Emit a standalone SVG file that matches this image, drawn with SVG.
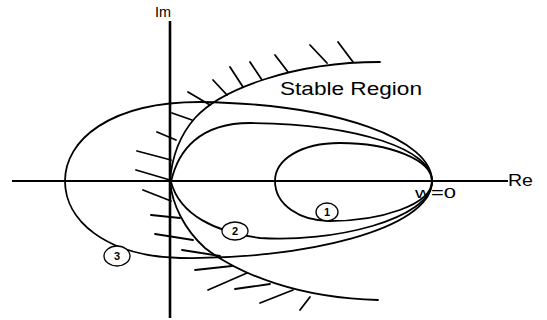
<svg xmlns="http://www.w3.org/2000/svg" width="547" height="320" viewBox="0 0 547 320">
<style>
.ax{stroke:#000;stroke-width:2.2;fill:none}
.cv{stroke:#000;stroke-width:1.8;fill:none;stroke-linecap:round}
.ht{stroke:#000;stroke-width:1.8;stroke-linecap:round}
.lb{fill:#fff;stroke:#000;stroke-width:1.3}
.t{font-family:"Liberation Sans",Arial,sans-serif;fill:#000}
.n{font-family:"Liberation Sans",Arial,sans-serif;font-size:11px;font-weight:bold;text-anchor:middle;fill:#000}
</style>
<rect width="547" height="320" fill="#fff"/>
<g id="axes">
<line class="ax" x1="12" y1="181" x2="508" y2="181"/>
<line class="ax" x1="170" y1="21" x2="170" y2="318" style="stroke-width:2.6"/>
<text class="t" x="155" y="17" font-size="14" textLength="16" lengthAdjust="spacingAndGlyphs">Im</text>
<text class="t" x="508" y="186" font-size="16" textLength="25" lengthAdjust="spacingAndGlyphs">Re</text>
</g>
<g id="stable-boundary">
<path class="cv" d="M380,62 C292,62 220,90 195,118 C180,135 172,155 170,181 C172,205 185,230 205,248 C240,275 300,298 378,300"/>
<g id="hatching">
<line class="ht" x1="353" y1="62" x2="338" y2="42"/>
<line class="ht" x1="327" y1="63" x2="310" y2="45"/>
<line class="ht" x1="288" y1="72" x2="275" y2="55"/>
<line class="ht" x1="262" y1="80" x2="250" y2="62"/>
<line class="ht" x1="243" y1="87" x2="230" y2="67"/>
<line class="ht" x1="227" y1="95" x2="213" y2="80"/>
<line class="ht" x1="210" y1="105" x2="188" y2="92"/>
<line class="ht" x1="192" y1="120" x2="172" y2="113"/>
<line class="ht" x1="176" y1="140" x2="157" y2="132"/>
<line class="ht" x1="171" y1="160" x2="137" y2="151"/>
<line class="ht" x1="170" y1="180" x2="136" y2="170"/>
<line class="ht" x1="171" y1="201" x2="143" y2="190"/>
<line class="ht" x1="180" y1="218" x2="151" y2="215"/>
<line class="ht" x1="193" y1="240" x2="155" y2="234"/>
<line class="ht" x1="220" y1="256" x2="182" y2="250"/>
<line class="ht" x1="232" y1="266" x2="195" y2="270"/>
<line class="ht" x1="247" y1="273" x2="208" y2="290"/>
<line class="ht" x1="270" y1="284" x2="235" y2="289"/>
<line class="ht" x1="293" y1="290" x2="260" y2="303"/>
<line class="ht" x1="310" y1="297" x2="300" y2="310"/>
</g>
<text class="t" x="280" y="95" font-size="18" textLength="142" lengthAdjust="spacingAndGlyphs">Stable Region</text>
</g>
<g id="curve1">
<path class="cv" d="M432,181 C432,160 390,143 340,143 C300,143 275,160 275,181 C275,205 300,221 330,221 C380,221 432,205 432,181 Z"/>
<ellipse class="lb" cx="327" cy="212" rx="11" ry="9"/>
<text class="n" x="327" y="216">1</text>
</g>
<g id="curve2">
<path class="cv" d="M432,181 C432,150 360,124 250,123 C200,123 178,150 171,182 C180,215 215,232 260,238 C330,243 432,220 432,181"/>
<ellipse class="lb" cx="235" cy="231" rx="13" ry="9"/>
<text class="n" x="235" y="235">2</text>
</g>
<g id="curve3">
<path class="cv" d="M432,181 C432,140 340,104 200,102 C110,102 65,140 65,181 C65,220 105,256 180,258 C300,260 432,230 432,181"/>
<ellipse class="lb" cx="117" cy="256" rx="13" ry="10"/>
<text class="n" x="117" y="260">3</text>
</g>
<text class="t" x="415" y="198" font-size="15" textLength="41" lengthAdjust="spacingAndGlyphs">w=0</text>
</svg>
